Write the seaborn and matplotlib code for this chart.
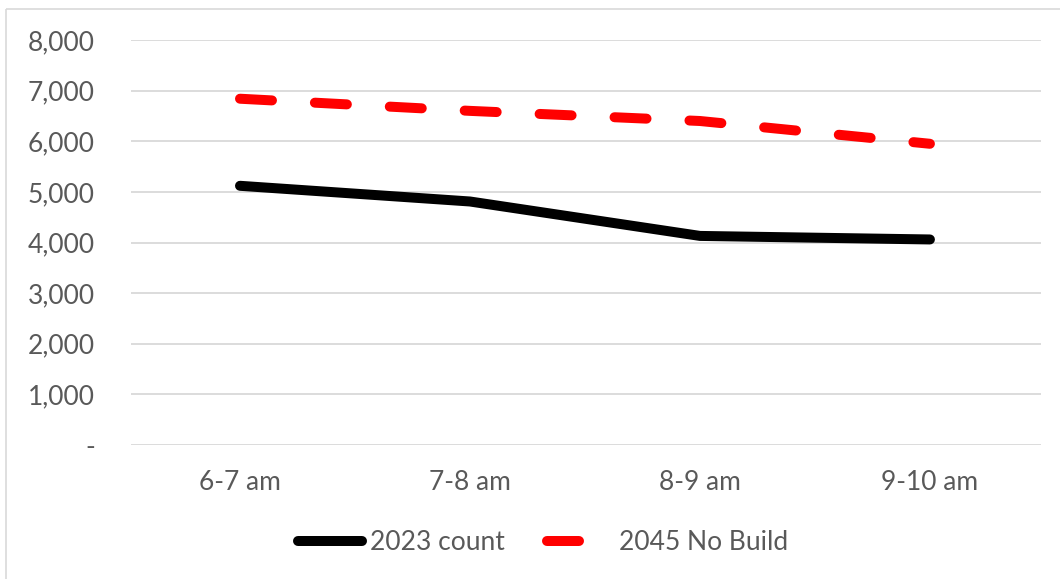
import pandas as pd
import seaborn as sns
import matplotlib.pyplot as plt
from matplotlib.patches import Rectangle

# chart data
hours = ['6-7 am', '7-8 am', '8-9 am', '9-10 am']
count_2023 = [5120, 4810, 4130, 4060]
no_build_2045 = [6840, 6600, 6400, 5950]
series_names = ['2023 count', '2045 No Build']
y_ticks = [0, 1000, 2000, 3000, 4000, 5000, 6000, 7000, 8000]
y_tick_labels = ['-', '1,000', '2,000', '3,000', '4,000', '5,000', '6,000', '7,000', '8,000']

df = pd.DataFrame({
    'Hour': hours * 2,
    'Volume': count_2023 + no_build_2045,
    'Series': [series_names[0]] * len(hours) + [series_names[1]] * len(hours),
})
df['x'] = df['Hour'].map({h: i for i, h in enumerate(hours)})

sns.set_style('white')
plt.rcParams['font.family'] = ['Lato', 'DejaVu Sans']

fig = plt.figure(figsize=(10.6, 5.79), dpi=100)
ax = fig.add_axes([131 / 1060, 1 - 445 / 579, 910 / 1060, 405 / 579])

#outer chart frame (partly cut off by the image edge)
fig.patches.append(Rectangle((6 / 1060, 1 - 9 / 579), 2, -2, transform=fig.transFigure,
                             fill=False, edgecolor='#d9d9d9', linewidth=1.2, zorder=0))

sns.lineplot(data=df, x='x', y='Volume', hue='Series', style='Series',
             palette={series_names[0]: '#000000', series_names[1]: '#ff0000'},
             dashes={series_names[0]: '', series_names[1]: (3.2, 4.3)},
             linewidth=7.2, sort=False, legend=False, ax=ax,
             solid_capstyle='round', dash_capstyle='round')

ax.set_xlim(-0.474, 3.483)
ax.set_ylim(0, 8000)
ax.set_xticks(range(len(hours)))
ax.set_xticklabels(hours)
ax.set_yticks(y_ticks)
ax.set_yticklabels(y_tick_labels)
ax.tick_params(axis='x', length=0, pad=18, labelsize=19, labelcolor='#595959')
ax.tick_params(axis='y', length=0, pad=26, labelsize=19, labelcolor='#595959')
ax.set_xlabel('')
ax.set_ylabel('')
ax.grid(axis='y', color='#d9d9d9', linewidth=1.3)
ax.set_axisbelow(True)
for side in ax.spines.values():
    side.set_visible(False)

fig.legend(handles=ax.lines[:2], labels=series_names, loc='center',
           bbox_to_anchor=(543 / 1060, 1 - 543 / 579), ncol=2, frameon=False,
           fontsize=19, labelcolor='#595959', handlelength=2.42, handletextpad=0.3,
           columnspacing=1.6)

fig.savefig('out.png', dpi=100)
